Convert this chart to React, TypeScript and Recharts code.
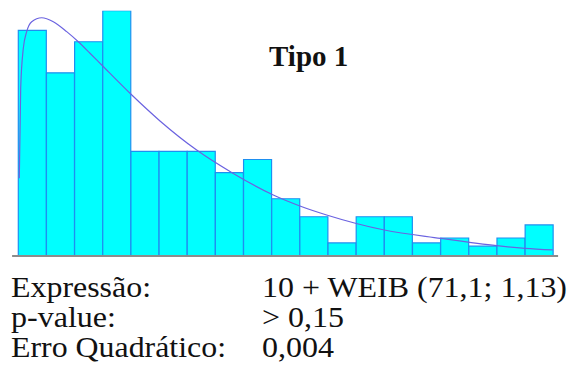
import { ComposedChart, Bar, Line, XAxis, YAxis, ReferenceLine } from "recharts";

// histogram bins (relative frequency)
const bins = [
  "b1", "b2", "b3", "b4", "b5", "b6", "b7", "b8", "b9", "b10",
  "b11", "b12", "b13", "b14", "b15", "b16", "b17", "b18", "b19",
];
const freq = [
  0.138, 0.112, 0.131, 0.150, 0.064, 0.064, 0.064, 0.051, 0.059, 0.035,
  0.024, 0.008, 0.024, 0.024, 0.008, 0.011, 0.006, 0.011, 0.019,
];

// fitted curve (x in bin units)
const curveX = [
  0.036, 0.085, 0.178, 0.298, 0.476, 0.831, 1.243, 1.719, 2.131, 2.546, 2.962,
  3.967, 5.032, 6.335, 7.635, 9.055, 10.0, 10.95, 13.0, 15.0, 16.99, 17.99, 18.98,
];
const curveY = [
  0.0475, 0.1026, 0.127, 0.1372, 0.1433, 0.1457, 0.1433, 0.1372, 0.131, 0.124, 0.1168,
  0.0995, 0.0826, 0.0648, 0.0505, 0.0373, 0.0306, 0.0251, 0.0159, 0.0108, 0.0063, 0.0047, 0.0037,
];

const title = "Tipo 1";
const labels = ["Expressão:", "p-value:", "Erro Quadrático:"];
const values = ["10 + WEIB (71,1; 1,13)", "> 0,15", "0,004"];

const barData = bins.map((name, i) => ({ name, freq: freq[i] }));
const curveData = curveX.map((x, i) => ({ x, fit: curveY[i] }));

const W = 572;
const H = 385;
const serif = "'Liberation Serif', 'Times New Roman', serif";
// the reference text is a bit wider than its height suggests
const labelWidths = [140, 105, 215];
const valueWidths = [305, 82, 72];

export default function App() {
  return (
    <div style={{ position: "absolute", left: 0, top: 0, width: W, height: H, background: "#fff" }}>
      <ComposedChart
        width={W}
        height={H}
        data={barData}
        barCategoryGap={0}
        margin={{ top: 10.7, right: 18.7, left: 18.3, bottom: 129 }}
      >
        <XAxis dataKey="name" hide />
        <XAxis xAxisId="fit" dataKey="x" type="number" domain={[0, 19]} hide />
        <YAxis type="number" domain={[0, 0.15]} hide allowDataOverflow />
        <Bar
          dataKey="freq"
          fill="#00ffff"
          stroke="#1e8ff0"
          strokeWidth={1.2}
          isAnimationActive={false}
        />
        <Line
          xAxisId="fit"
          data={curveData}
          dataKey="fit"
          type="monotone"
          stroke="#6b63e0"
          strokeWidth={1.2}
          dot={false}
          isAnimationActive={false}
        />
        <ReferenceLine
          xAxisId="fit"
          segment={[{ x: -0.22, y: 0 }, { x: 19.17, y: 0 }]}
          stroke="#8c8c8c"
          strokeWidth={2}
          ifOverflow="visible"
        />
      </ComposedChart>
      <svg width={W} height={H} style={{ position: "absolute", left: 0, top: 0, pointerEvents: "none" }}>
        <text x={269} y={66} style={{ fontFamily: serif, fontSize: 29, fontWeight: "bold" }} fill="#111">
          {title}
        </text>
        {labels.map((l, i) => (
          <text
            key={l}
            x={11}
            y={297 + i * 30}
            textLength={labelWidths[i]}
            lengthAdjust="spacingAndGlyphs"
            style={{ fontFamily: serif, fontSize: 29.5 }}
            fill="#111"
          >
            {l}
          </text>
        ))}
        {values.map((v, i) => (
          <text
            key={v}
            x={262}
            y={297 + i * 30}
            textLength={valueWidths[i]}
            lengthAdjust="spacingAndGlyphs"
            style={{ fontFamily: serif, fontSize: 29.5 }}
            fill="#111"
          >
            {v}
          </text>
        ))}
      </svg>
    </div>
  );
}
